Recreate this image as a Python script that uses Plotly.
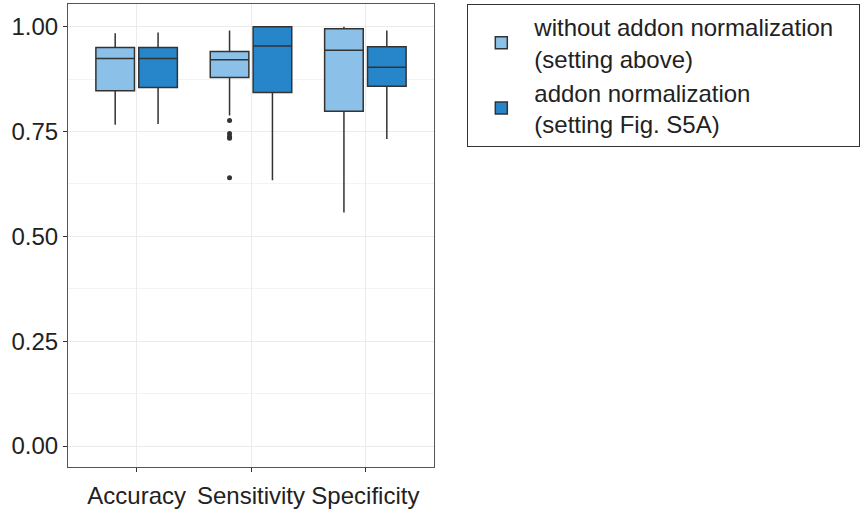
import plotly.graph_objects as go

categories = ["Accuracy", "Sensitivity", "Specificity"]
series_names = ["without addon normalization&nbsp;&nbsp;&nbsp;<br>(setting above)",
                "addon normalization<br>(setting Fig. S5A)"]

# precomputed box statistics
without_lower = [0.766, 0.788, 0.557]
without_q1 = [0.847, 0.879, 0.798]
without_median = [0.924, 0.921, 0.944]
without_q3 = [0.950, 0.941, 0.995]
without_upper = [0.984, 0.991, 1.000]
without_outliers = [[], [0.776, 0.745, 0.738, 0.734, 0.640], []]

addon_lower = [0.768, 0.634, 0.732]
addon_q1 = [0.855, 0.843, 0.858]
addon_median = [0.924, 0.954, 0.903]
addon_q3 = [0.950, 1.000, 0.952]
addon_upper = [0.986, 1.000, 0.991]
addon_outliers = [[], [], []]

colors = ["#8BC1E8", "#2786CA"]
font_family = "Liberation Sans, Arial, sans-serif"
text_color = "#222222"

fig = go.Figure()
for name, lo, q1, med, q3, up, pts, col in [
    (series_names[0], without_lower, without_q1, without_median, without_q3, without_upper, without_outliers, colors[0]),
    (series_names[1], addon_lower, addon_q1, addon_median, addon_q3, addon_upper, addon_outliers, colors[1]),
]:
    # sample arrays: the median (inside the box, never drawn) plus outliers
    samples = [[m] + list(p) for m, p in zip(med, pts)]
    fig.add_trace(go.Box(
        name=name,
        x=categories,
        y=samples,
        q1=q1, median=med, q3=q3, lowerfence=lo, upperfence=up,
        boxpoints="outliers",
        fillcolor=col,
        line=dict(color="#333333", width=1.5),
        marker=dict(color="#333333", size=5, outliercolor="#333333",
                    line=dict(width=0)),
        whiskerwidth=0,
        hoverinfo="skip",
    ))

fig.update_layout(
    width=866, height=518,
    margin=dict(l=68, r=432, t=4, b=51, autoexpand=False),
    boxmode="group",
    boxgap=0.25,
    boxgroupgap=0.1,
    plot_bgcolor="white",
    paper_bgcolor="white",
    font=dict(family=font_family, size=24, color=text_color),
    legend=dict(
        x=1.091, y=1.0, xanchor="left", yanchor="top",
        bordercolor="#333333", borderwidth=1,
        font=dict(size=24, family=font_family, color=text_color),
        itemwidth=56,
        tracegroupgap=8,
    ),
    showlegend=True,
)
fig.update_xaxes(
    type="category",
    categoryorder="array", categoryarray=categories,
    range=[-0.6, 2.6],
    showgrid=True, gridcolor="#ebebeb", gridwidth=1,
    showline=True, mirror=True, linecolor="#555555", linewidth=1,
    ticks="outside", ticklen=4, tickcolor="#333333",
    ticklabelstandoff=3,
    tickfont=dict(size=24, color=text_color),
    zeroline=False,
)
fig.update_yaxes(
    range=[-0.050, 1.054],
    tickvals=[0, 0.25, 0.5, 0.75, 1.0],
    ticktext=["0.00", "0.25", "0.50", "0.75", "1.00"],
    showgrid=True, gridcolor="#ebebeb", gridwidth=1,
    minor=dict(tickvals=[0.125, 0.375, 0.625, 0.875], showgrid=True,
               gridcolor="#f3f3f3", gridwidth=1, ticks=""),
    showline=True, mirror=True, linecolor="#555555", linewidth=1,
    ticks="outside", ticklen=4, tickcolor="#333333",
    tickfont=dict(size=24, color=text_color),
    zeroline=False,
)

fig.write_html("out.html")
